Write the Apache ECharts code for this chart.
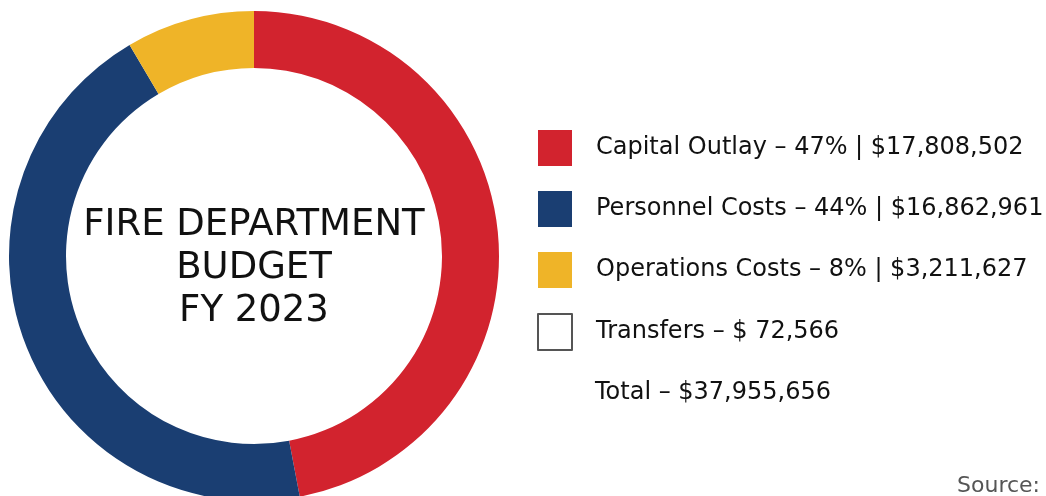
<!DOCTYPE html>
<html lang="en">
<head>
<meta charset="UTF-8">
<style>
  html, body { height: 100%; margin: 0; background: #fff; }
</style>
</head>
<body>
<div id="chart" style="width:1046px;height:496px;"></div>
<script src="https://cdn.jsdelivr.net/npm/echarts@6/dist/echarts.min.js"></script>
<script>
// budget data
var names = ['Capital Outlay', 'Personnel Costs', 'Operations Costs', 'Transfers'];
var amounts = [17808502, 16862961, 3211627, 72566];
var percents = ['47%', '44%', '8%', ''];
var amountLabels = ['$17,808,502', '$16,862,961', '$3,211,627', '$ 72,566'];
var totalLabel = 'Total – $37,955,656';
var colors = ['#D2232E', '#1A3E72', '#EFB428', '#ffffff'];

var FONT = 'DejaVu Sans';

var myChart = echarts.init(document.getElementById('chart'));

// the ring only shows the first three; transfers is too small and only sits in the legend
var ringData = [];
var legendOnly = [];
for (var i = 0; i < names.length; i++) {
    var d = { name: names[i], value: amounts[i], itemStyle: { color: colors[i] } };
    if (colors[i] === '#ffffff') {
        d.itemStyle.borderColor = '#555555';
        d.itemStyle.borderWidth = 1;
        legendOnly.push(d);
    } else {
        ringData.push(d);
    }
}

myChart.setOption({
    animation: false,
    legend: {
        orient: 'vertical',
        left: 537,
        top: 130,
        padding: 0,
        itemWidth: 34,
        itemHeight: 36,
        itemGap: 25,
        icon: 'rect',
        selectedMode: false,
        data: names,
        textStyle: {
            fontFamily: FONT,
            fontSize: 24,
            color: '#111',
            padding: [0, 0, 0, 19]
        },
        formatter: function (name) {
            var i = names.indexOf(name);
            if (percents[i]) {
                return name + ' – ' + percents[i] + ' | ' + amountLabels[i];
            }
            return name + ' – ' + amountLabels[i];
        }
    },
    graphic: [
        {
            type: 'text',
            x: 254,
            y: 268,
            style: {
                text: 'FIRE DEPARTMENT\nBUDGET\nFY 2023',
                fontFamily: FONT,
                fontSize: 37,
                lineHeight: 43,
                fill: '#111',
                align: 'center',
                verticalAlign: 'middle'
            }
        },
        {
            type: 'text',
            x: 595,
            y: 393,
            style: {
                text: totalLabel,
                fontFamily: FONT,
                fontSize: 24,
                fill: '#111',
                verticalAlign: 'middle'
            }
        },
        {
            type: 'text',
            x: 1040,
            y: 486,
            style: {
                text: 'Source:',
                fontFamily: FONT,
                fontSize: 22,
                fill: '#555',
                align: 'right',
                verticalAlign: 'middle'
            }
        }
    ],
    series: [{
        type: 'pie',
        center: [254, 256],
        radius: [188, 245],
        startAngle: 90,
        clockwise: true,
        label: { show: false },
        labelLine: { show: false },
        emphasis: { disabled: true },
        data: ringData
    }, {
        type: 'pie',
        center: [254, 256],
        radius: [0, 0],
        label: { show: false },
        labelLine: { show: false },
        emphasis: { disabled: true },
        data: legendOnly
    }]
});
</script>
</body>
</html>
